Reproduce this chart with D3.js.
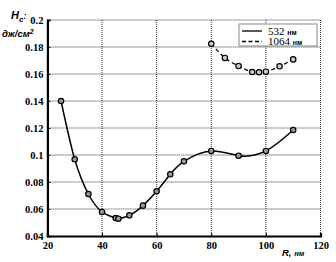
<!DOCTYPE html>
<html>
<head>
<meta charset="utf-8">
<script src="https://cdn.jsdelivr.net/npm/d3@7"></script>
<style>
  body { margin: 0; background: #fff; }
  svg { display: block; }
</style>
</head>
<body>
<svg id="chart" width="336" height="262"></svg>
<script>
// series
const r532 = [25, 30, 35, 40, 45, 46, 50, 55, 60, 65, 70, 80, 90, 100, 110];
const h532 = [0.140, 0.0968, 0.0711, 0.0578, 0.0533, 0.0528, 0.0553, 0.0625, 0.0731, 0.0857, 0.0953, 0.103, 0.0995, 0.103, 0.1185];
const r1064 = [80, 85, 90, 95, 97.5, 100, 105, 110];
const h1064 = [0.1824, 0.1719, 0.1659, 0.1615, 0.1613, 0.1617, 0.1657, 0.1708];
const xTicks = [20, 40, 60, 80, 100, 120];
const yTicks = [0.04, 0.06, 0.08, 0.1, 0.12, 0.14, 0.16, 0.18, 0.2];
const legendLabels = ["532", "1064"];

const svg = d3.select("#chart");
const x = d3.scaleLinear().domain([20, 120]).range([47.4, 320.5]);
const y = d3.scaleLinear().domain([0.04, 0.2]).range([236, 20]);

// dotted grid
const grid = svg.append("g")
    .attr("stroke", "#333")
    .attr("stroke-width", 1)
    .attr("stroke-dasharray", "1,1");
grid.selectAll("line.gx")
    .data(xTicks.slice(1))
    .join("line")
    .attr("x1", d => x(d)).attr("x2", d => x(d))
    .attr("y1", y(0.2)).attr("y2", y(0.04));
grid.selectAll("line.gy")
    .data(yTicks.slice(1))
    .join("line")
    .attr("x1", x(20)).attr("x2", x(120))
    .attr("y1", d => y(d)).attr("y2", d => y(d));

// axes (ticks pointing inwards)
const tickFont = "'Liberation Serif', 'DejaVu Serif', serif";
const xAxis = svg.append("g")
    .attr("transform", `translate(0,${y(0.04)})`)
    .call(d3.axisBottom(x).tickValues(xTicks).tickSize(-3).tickPadding(6).tickFormat(d3.format("d")));
const yAxis = svg.append("g")
    .attr("transform", `translate(${x(20)},0)`)
    .call(d3.axisLeft(y).tickValues(yTicks).tickSize(-3).tickPadding(4).tickFormat(d => d3.format("")(+d.toFixed(2))));

[xAxis, yAxis].forEach(a => {
    a.attr("font-family", null);
    a.select(".domain").attr("stroke", "#000").attr("stroke-width", 2.2);
    a.selectAll(".tick line").attr("stroke", "#000").attr("stroke-width", 1);
    a.selectAll("text")
        .attr("fill", "#000")
        .style("font-family", tickFont)
        .style("font-weight", "bold")
        .style("font-size", "10.5px");
});
yAxis.selectAll("text").attr("dy", "0.36em");

// lines
const line532 = d3.line()
    .x((d, i) => x(r532[i]))
    .y(d => y(d))
    .curve(d3.curveNatural);
svg.append("path")
    .attr("d", line532(h532))
    .attr("fill", "none")
    .attr("stroke", "#000")
    .attr("stroke-width", 1.5);

const line1064 = d3.line()
    .x((d, i) => x(r1064[i]))
    .y(d => y(d))
    .curve(d3.curveCatmullRom);
svg.append("path")
    .attr("d", line1064(h1064))
    .attr("fill", "none")
    .attr("stroke", "#000")
    .attr("stroke-width", 1.3)
    .attr("stroke-dasharray", "4,3");

// markers
svg.append("g").selectAll("circle")
    .data(h532)
    .join("circle")
    .attr("cx", (d, i) => x(r532[i]))
    .attr("cy", d => y(d))
    .attr("r", 2.7)
    .attr("fill", "#999")
    .attr("stroke", "#000")
    .attr("stroke-width", 1.2);
svg.append("g").selectAll("circle")
    .data(h1064)
    .join("circle")
    .attr("cx", (d, i) => x(r1064[i]))
    .attr("cy", d => y(d))
    .attr("r", 2.7)
    .attr("fill", "#ccc")
    .attr("stroke", "#000")
    .attr("stroke-width", 1.2);

// legend
const legend = svg.append("g").attr("transform", "translate(239,24)");
legend.append("rect")
    .attr("width", 78).attr("height", 22)
    .attr("fill", "#fff")
    .attr("stroke", "#888")
    .attr("stroke-width", 1);
legendLabels.forEach((lab, i) => {
    const gy = 7 + i * 10.5;
    legend.append("line")
        .attr("x1", 3).attr("x2", 23)
        .attr("y1", gy).attr("y2", gy)
        .attr("stroke", "#000")
        .attr("stroke-width", 1.3)
        .attr("stroke-dasharray", i === 0 ? null : "4,2.5");
    const t = legend.append("text")
        .attr("x", 29).attr("y", gy + 3.5)
        .style("font-family", tickFont)
        .style("font-size", "11px")
        .attr("fill", "#000")
        .text(lab + " ");
    t.append("tspan")
        .style("font-family", "'Liberation Sans', Arial, sans-serif")
        .style("font-size", "7px")
        .style("font-weight", "bold")
        .text("нм");
});

// axis titles
const titleFont = "'Liberation Sans', Arial, sans-serif";
const yt = svg.append("text")
    .attr("x", 11).attr("y", 19)
    .style("font-family", titleFont)
    .style("font-weight", "bold")
    .style("font-style", "italic")
    .style("font-size", "11px")
    .text("H");
yt.append("tspan").attr("dy", 3).style("font-size", "8px").text("c");
yt.append("tspan").attr("dy", -3).style("font-size", "9px").text(":");

const yu = svg.append("text")
    .attr("x", 2).attr("y", 37)
    .style("font-family", titleFont)
    .style("font-weight", "bold")
    .style("font-style", "italic")
    .style("font-size", "9.5px")
    .text("дж/см");
yu.append("tspan").attr("dy", -3.5).style("font-size", "7px").text("2");

const xt = svg.append("text")
    .attr("x", 282).attr("y", 256)
    .style("font-family", titleFont)
    .style("font-weight", "bold")
    .style("font-style", "italic")
    .style("font-size", "9.5px")
    .text("R,  ");
xt.append("tspan").style("font-size", "7.5px").text("нм");
</script>
</body>
</html>
